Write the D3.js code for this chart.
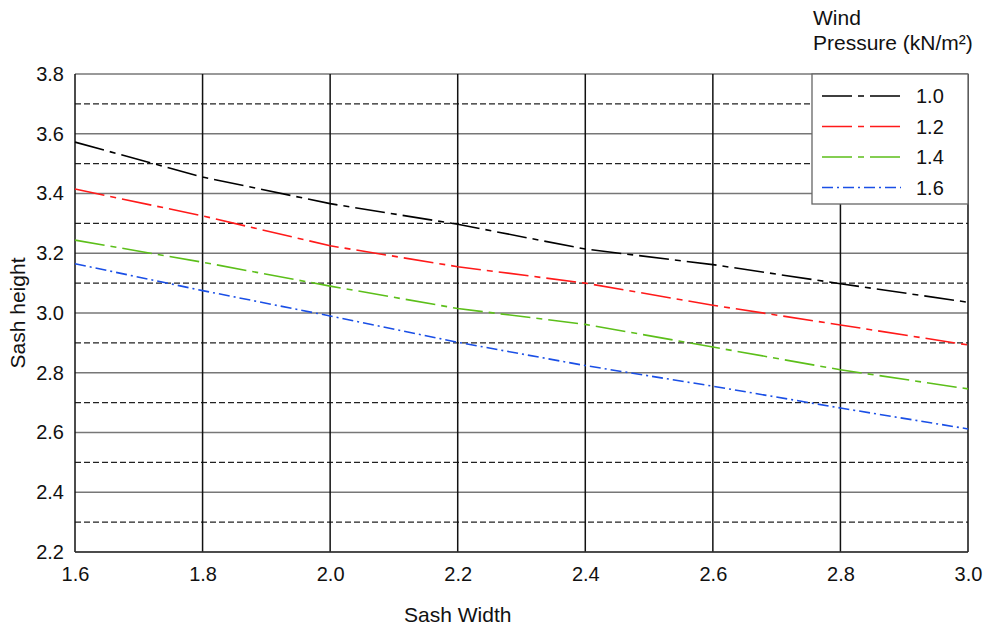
<!DOCTYPE html>
<html>
<head>
<meta charset="utf-8">
<script src="https://cdn.jsdelivr.net/npm/d3@7"></script>
<style>
  body { margin: 0; background: #fff; }
  text { font-family: "Liberation Sans", Arial, sans-serif; fill: #111; }
</style>
</head>
<body>
<div id="chart"></div>
<script>
// data
const sashWidths = [1.6, 1.8, 2.0, 2.2, 2.4, 2.6, 2.8, 3.0];
const pressures = ["1.0", "1.2", "1.4", "1.6"];
const h10 = [3.572, 3.455, 3.366, 3.297, 3.214, 3.162, 3.098, 3.036];
const h12 = [3.415, 3.325, 3.225, 3.155, 3.100, 3.026, 2.960, 2.893];
const h14 = [3.244, 3.170, 3.090, 3.015, 2.962, 2.886, 2.810, 2.746];
const h16 = [3.165, 3.075, 2.990, 2.902, 2.824, 2.755, 2.682, 2.612];
const seriesColors = ["#000000", "#ff1a1a", "#5cbf1a", "#1a4fe6"];
const seriesDash = ["30,6,6,6", "30,6,6,6", "30,6,6,6", "11,4,2,4"];
const xTicks = [1.6, 1.8, 2.0, 2.2, 2.4, 2.6, 2.8, 3.0];
const yTicks = [2.2, 2.4, 2.6, 2.8, 3.0, 3.2, 3.4, 3.6, 3.8];
const yMinor = [2.3, 2.5, 2.7, 2.9, 3.1, 3.3, 3.5, 3.7];

const W = 995, H = 627;
const margin = {top: 74, right: 27, bottom: 75, left: 75};
const width = W - margin.left - margin.right,
      height = H - margin.top - margin.bottom;

const svg = d3.select("#chart").append("svg")
    .attr("width", W)
    .attr("height", H)
  .append("g")
    .attr("transform", `translate(${margin.left},${margin.top})`);

const x = d3.scaleLinear().domain([1.6, 3.0]).range([0, width]);
const y = d3.scaleLinear().domain([2.2, 3.8]).range([height, 0]);

// horizontal grid, solid at major ticks
svg.selectAll(".hgrid")
  .data(yTicks)
  .join("line")
    .attr("x1", 0).attr("x2", width)
    .attr("y1", d => y(d)).attr("y2", d => y(d))
    .attr("stroke", "#777").attr("stroke-width", 1.3);

// dashed lines at the half steps
svg.selectAll(".hminor")
  .data(yMinor)
  .join("line")
    .attr("x1", 0).attr("x2", width)
    .attr("y1", d => y(d)).attr("y2", d => y(d))
    .attr("stroke", "#222").attr("stroke-width", 1.2)
    .attr("stroke-dasharray", "6,3");

// vertical grid
svg.selectAll(".vgrid")
  .data(xTicks)
  .join("line")
    .attr("x1", d => x(d)).attr("x2", d => x(d))
    .attr("y1", 0).attr("y2", height)
    .attr("stroke", "#111").attr("stroke-width", 1.5);

// bottom border
svg.append("line")
  .attr("x1", 0).attr("x2", width)
  .attr("y1", height).attr("y2", height)
  .attr("stroke", "#333").attr("stroke-width", 1.5);

// axes (labels only)
svg.append("g")
    .attr("transform", `translate(0,${height})`)
    .call(d3.axisBottom(x).tickValues(xTicks).tickFormat(d3.format(".1f")).tickSize(0).tickPadding(15))
    .call(g => g.select(".domain").remove())
    .selectAll("text").style("font-size", "20px");

svg.append("g")
    .call(d3.axisLeft(y).tickValues(yTicks).tickFormat(d3.format(".1f")).tickSize(0).tickPadding(11))
    .call(g => g.select(".domain").remove())
    .selectAll("text").style("font-size", "20px");

// axis titles
svg.append("text")
    .attr("x", x(2.2))
    .attr("y", height + 70)
    .attr("text-anchor", "middle")
    .style("font-size", "21px")
    .text("Sash Width");

svg.append("text")
    .attr("transform", `translate(${-50},${y(3.0)}) rotate(-90)`)
    .attr("text-anchor", "middle")
    .style("font-size", "21px")
    .text("Sash height");

// lines
const allSeries = [h10, h12, h14, h16];
const line = d3.line()
    .x((d, i) => x(sashWidths[i]))
    .y(d => y(d));

svg.selectAll(".series")
  .data(allSeries)
  .join("path")
    .attr("fill", "none")
    .attr("stroke", (d, i) => seriesColors[i])
    .attr("stroke-width", 1.6)
    .attr("stroke-dasharray", (d, i) => seriesDash[i])
    .attr("d", line);

// legend
const lx = width - 156, ly = 0;
svg.append("rect")
    .attr("x", lx).attr("y", ly)
    .attr("width", 156).attr("height", 130)
    .attr("fill", "#fff")
    .attr("stroke", "#666").attr("stroke-width", 1.3);

const items = svg.selectAll(".leg")
  .data(pressures)
  .join("g")
    .attr("transform", (d, i) => `translate(${lx + 10},${ly + 22 + i * 30.5})`);

items.append("line")
    .attr("x1", 0).attr("x2", 79)
    .attr("stroke", (d, i) => seriesColors[i])
    .attr("stroke-width", 1.6)
    .attr("stroke-dasharray", (d, i) => seriesDash[i]);

items.append("text")
    .attr("x", 94).attr("y", 7)
    .style("font-size", "20px")
    .text(d => d);

// legend title
svg.append("text")
    .attr("x", lx + 1).attr("y", -49)
    .style("font-size", "21px")
    .text("Wind");
svg.append("text")
    .attr("x", lx + 1).attr("y", -24)
    .style("font-size", "21px")
    .text("Pressure (kN/m²)");
</script>
</body>
</html>
